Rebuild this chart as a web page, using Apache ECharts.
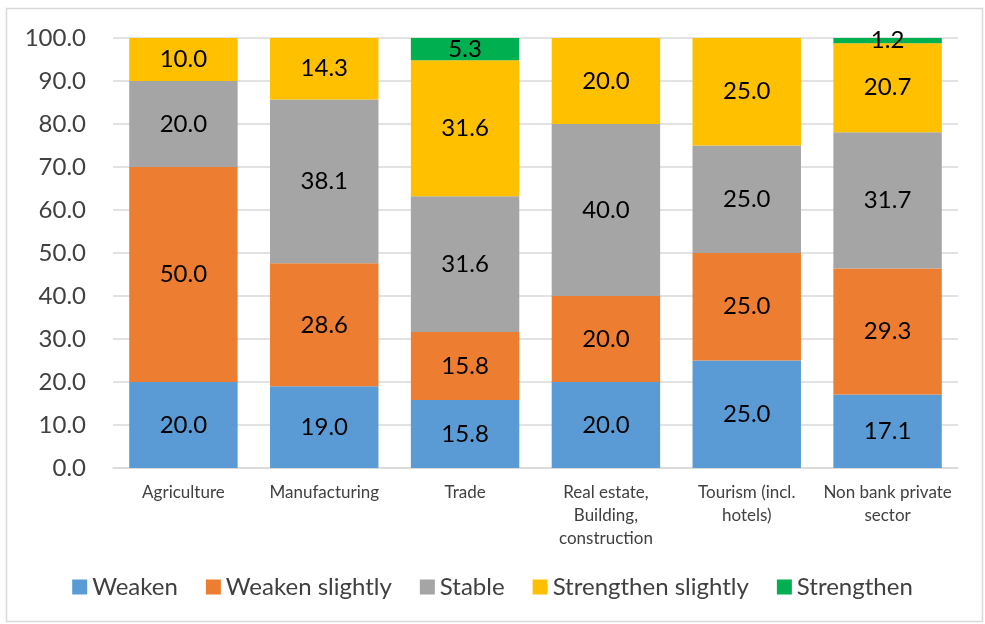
<!DOCTYPE html>
<html>
<head>
<meta charset="utf-8">
<script src="https://cdn.jsdelivr.net/npm/echarts@6/dist/echarts.min.js"></script>
<style>
  html, body { margin: 0; padding: 0; background: #fff; }
  #main { width: 985px; height: 624px; }
</style>
</head>
<body>
<div id="main"></div>
<script>
// sectors on the x axis
var categories = ['Agriculture', 'Manufacturing', 'Trade', 'Real estate,\nBuilding,\nconstruction', 'Tourism (incl.\nhotels)', 'Non bank private\nsector'];
var yTicks = [0, 10, 20, 30, 40, 50, 60, 70, 80, 90, 100];

var weaken = [20.0, 19.0, 15.8, 20.0, 25.0, 17.1];
var weakenSlightly = [50.0, 28.6, 15.8, 20.0, 25.0, 29.3];
var stable = [20.0, 38.1, 31.6, 40.0, 25.0, 31.7];
var strengthenSlightly = [10.0, 14.3, 31.6, 20.0, 25.0, 20.7];
var strengthen = [null, null, 5.3, null, null, 1.2];

var font = 'Lato, "Open Sans", sans-serif';

function makeSeries(name, data, color) {
  return {
    name: name,
    type: 'bar',
    stack: 'total',
    data: data,
    barCategoryGap: '23%',
    itemStyle: { color: color },
    label: {
      show: true,
      position: 'inside',
      color: '#000',
      fontFamily: font,
      fontSize: 24,
      formatter: function (p) { return p.value == null ? '' : p.value.toFixed(1); }
    },
    emphasis: { disabled: true }
  };
}

var myChart = echarts.init(document.getElementById('main'));
var options = {
  animation: false,
  textStyle: { fontFamily: font },
  graphic: [{
    type: 'rect',
    shape: { x: 6.5, y: 8.5, width: 976, height: 613 },
    style: { fill: 'none', stroke: '#d9d9d9', lineWidth: 1.5 },
    silent: true
  }],
  grid: { left: 113, right: 27, top: 38, bottom: 156, containLabel: false },
  legend: {
    bottom: 20,
    left: 'center',
    itemWidth: 15,
    itemHeight: 15,
    itemGap: 28,
    icon: 'rect',
    textStyle: { fontFamily: font, fontSize: 24, color: '#404040' },
    data: ['Weaken', 'Weaken slightly', 'Stable', 'Strengthen slightly', 'Strengthen']
  },
  xAxis: {
    type: 'category',
    data: categories,
    axisLine: { lineStyle: { color: '#d9d9d9', width: 1.5 } },
    axisTick: { show: false },
    axisLabel: {
      interval: 0,
      color: '#404040',
      fontFamily: font,
      fontSize: 17,
      lineHeight: 23,
      margin: 13
    }
  },
  yAxis: {
    type: 'value',
    min: yTicks[0],
    max: yTicks[yTicks.length - 1],
    interval: 10,
    axisLine: { show: false },
    axisTick: { show: false },
    splitLine: { lineStyle: { color: '#d9d9d9', width: 1.5 } },
    axisLabel: {
      color: '#404040',
      fontFamily: font,
      fontSize: 24,
      margin: 27,
      formatter: function (v) { return v.toFixed(1); }
    }
  },
  series: [
    makeSeries('Weaken', weaken, '#5b9bd5'),
    makeSeries('Weaken slightly', weakenSlightly, '#ed7d31'),
    makeSeries('Stable', stable, '#a5a5a5'),
    makeSeries('Strengthen slightly', strengthenSlightly, '#ffc000'),
    makeSeries('Strengthen', strengthen, '#00b050')
  ]
};
myChart.setOption(options);
</script>
</body>
</html>
